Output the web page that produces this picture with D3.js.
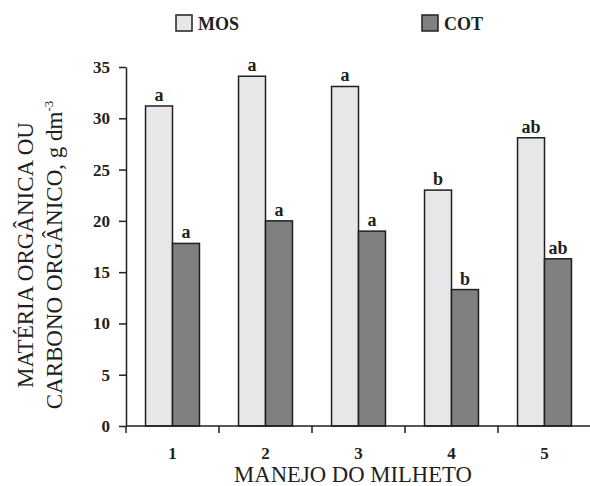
<!DOCTYPE html>
<html lang="pt">
<head>
<meta charset="UTF-8">
<title>Manejo do milheto</title>
<script src="https://cdnjs.cloudflare.com/ajax/libs/d3/7.8.5/d3.min.js"></script>
<style>
  body { margin: 0; background: #fff; }
  svg text { font-family: "Liberation Serif", "Times New Roman", serif; fill: #231f20; }
</style>
</head>
<body>
<div id="chart"></div>
<script>
// data
const manejos = ["1", "2", "3", "4", "5"];
const series = ["MOS", "COT"];
const mosValues = [31.2, 34.1, 33.1, 23.0, 28.1];
const cotValues = [17.8, 20.0, 19.0, 13.3, 16.3];
const mosLetters = ["a", "a", "a", "b", "ab"];
const cotLetters = ["a", "a", "a", "b", "ab"];
const yTicks = [0, 5, 10, 15, 20, 25, 30, 35];

const width = 590, height = 486;
const ink = "#231f20";
const fills = { MOS: "#e6e7e8", COT: "#808080" };

const svg = d3.select("#chart").append("svg")
    .attr("width", width)
    .attr("height", height);

const plotLeft = 126, plotRight = 591, plotBottom = 426, plotTop = 67;

const x0 = d3.scaleBand().domain(manejos).range([plotLeft, plotRight])
    .paddingInner(0.42).paddingOuter(0.21);
const x1 = d3.scaleBand().domain(series).range([0, x0.bandwidth()]);
const y = d3.scaleLinear().domain([0, 35]).range([plotBottom, plotTop]);

const rows = manejos.map((m, i) => ({
    manejo: m,
    values: [
        { key: "MOS", v: mosValues[i], letter: mosLetters[i] },
        { key: "COT", v: cotValues[i], letter: cotLetters[i] }
    ]
}));

// bars
const groups = svg.selectAll(".grp")
    .data(rows)
    .enter().append("g")
    .attr("class", "grp")
    .attr("transform", d => `translate(${x0(d.manejo)},0)`);

groups.selectAll("rect")
    .data(d => d.values)
    .enter().append("rect")
    .attr("x", d => x1(d.key))
    .attr("y", d => y(d.v))
    .attr("width", x1.bandwidth())
    .attr("height", d => y(0) - y(d.v))
    .attr("fill", d => fills[d.key])
    .attr("stroke", ink)
    .attr("stroke-width", 1.5);

groups.selectAll(".lbl")
    .data(d => d.values)
    .enter().append("text")
    .attr("class", "lbl")
    .attr("x", d => x1(d.key) + x1.bandwidth() / 2)
    .attr("y", d => y(d.v) - 5)
    .attr("text-anchor", "middle")
    .style("font-size", "18px")
    .style("font-weight", "bold")
    .text(d => d.letter);

// y axis
const yAxis = svg.append("g")
    .attr("transform", `translate(${plotLeft},0)`)
    .call(d3.axisLeft(y).tickValues(yTicks).tickSize(7).tickSizeOuter(0).tickPadding(9));
yAxis.selectAll("path, line").attr("stroke", ink).attr("stroke-width", 1.5);
yAxis.selectAll("text")
    .style("font-family", "'Liberation Serif', serif")
    .style("font-size", "17px")
    .style("font-weight", "bold")
    .attr("fill", ink);

// x axis line with ticks between groups
svg.append("line")
    .attr("x1", plotLeft).attr("x2", 590)
    .attr("y1", plotBottom).attr("y2", plotBottom)
    .attr("stroke", ink).attr("stroke-width", 1.5);
svg.selectAll(".xtick")
    .data(manejos)
    .enter().append("line")
    .attr("class", "xtick")
    .attr("x1", d => x0(d) - x0.step() * 0.21)
    .attr("x2", d => x0(d) - x0.step() * 0.21)
    .attr("y1", plotBottom).attr("y2", plotBottom + 7)
    .attr("stroke", ink).attr("stroke-width", 1.5);
svg.selectAll(".xlab")
    .data(manejos)
    .enter().append("text")
    .attr("class", "xlab")
    .attr("x", d => x0(d) + x0.bandwidth() / 2)
    .attr("y", 459)
    .attr("text-anchor", "middle")
    .style("font-size", "17px")
    .style("font-weight", "bold")
    .text(d => d);

// axis titles
svg.append("text")
    .attr("x", 353).attr("y", 482)
    .attr("text-anchor", "middle")
    .style("font-size", "22.7px")
    .text("MANEJO DO MILHETO");

const yTitle = svg.append("text")
    .attr("transform", "translate(0,255) rotate(-90)")
    .attr("text-anchor", "middle")
    .style("font-size", "23px");
yTitle.append("tspan").attr("x", 0).attr("y", 33).text("MATÉRIA ORGÂNICA OU");
yTitle.append("tspan").attr("x", 0).attr("y", 62).text("CARBONO ORGÂNICO, g dm");
yTitle.append("tspan").attr("dy", -9).style("font-size", "13px").text("-3");

// legend
const legendX = { MOS: 176, COT: 422 };
const legend = svg.selectAll(".leg")
    .data(series)
    .enter().append("g")
    .attr("class", "leg")
    .attr("transform", d => `translate(${legendX[d]},15)`);
legend.append("rect")
    .attr("width", 16).attr("height", 16)
    .attr("fill", d => fills[d])
    .attr("stroke", ink).attr("stroke-width", 1.5);
legend.append("text")
    .attr("x", 22).attr("y", 15)
    .style("font-size", "18px")
    .style("font-weight", "bold")
    .text(d => d);
</script>
</body>
</html>
